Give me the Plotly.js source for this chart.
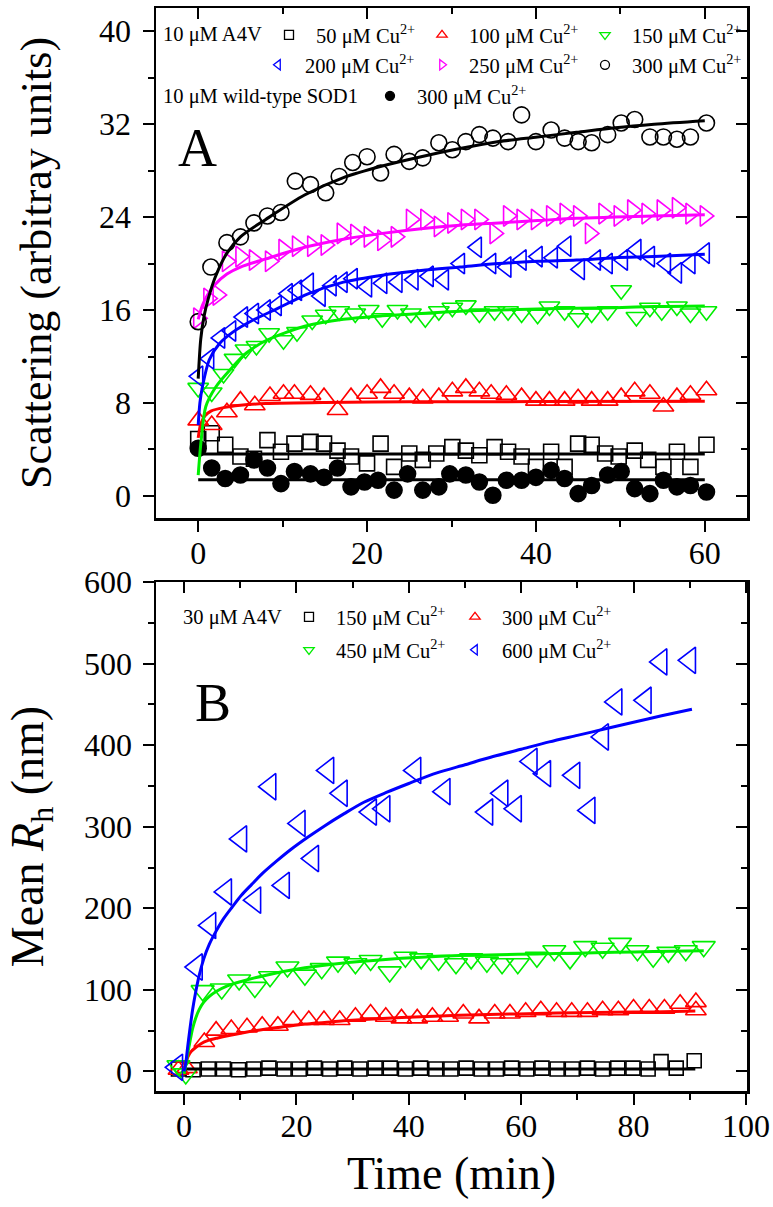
<!DOCTYPE html>
<html><head><meta charset="utf-8">
<script src="https://cdn.plot.ly/plotly-3.0.1.min.js"></script>
<style>html,body{margin:0;padding:0;background:#fff}#chart{width:773px;height:1207px}</style>
</head><body><div id="chart"></div>
<script>
// ---------- Panel A data (10 uM A4V / WT SOD1, scattering) ----------
const tA50 = [0,1.6,3.2,5.0,6.6,8.2,9.8,11.4,13.3,14.9,16.5,18.1,20.0,21.6,23.2,25.0,26.6,28.2,30.1,31.7,33.3,35.1,36.7,38.3,40.0,41.8,43.4,45.0,46.6,48.2,49.8,51.7,53.3,55.1,56.7,58.3,60.2];
const vA50 = [4.9,5.4,4.4,3.4,3.2,4.8,3.8,4.5,4.65,4.5,3.9,3.4,2.8,4.5,2.5,3.65,3.1,3.65,4.2,3.9,3.5,4.2,3.8,3.4,2.5,3.8,2.5,4.5,4.4,3.65,3.4,3.9,3.1,2.5,3.8,2.5,4.4];
const tA100 = [0,1.6,3.4,5.0,6.7,8.5,10.1,11.4,13.3,14.9,16.5,18.1,20.0,21.6,23.2,25.0,26.6,28.5,30.1,31.7,33.3,34.7,36.5,38.3,40.0,41.6,43.4,45.0,46.6,48.5,50.1,51.7,53.5,55.1,56.7,58.3,60.2];
const vA100 = [6.5,6.1,7.2,8.2,7.8,8.6,8.8,8.8,8.7,8.5,7.4,8.5,8.8,9.3,8.8,8.5,8.4,8.5,9.0,9.3,9.0,8.8,8.7,8.5,8.2,8.2,8.2,8.4,8.2,8.2,8.5,9.0,8.8,7.7,8.5,8.7,9.1];
const tA150 = [0,1.6,3.0,4.3,5.6,6.9,8.4,10.1,11.7,13.5,15.1,16.7,18.6,20.2,21.8,23.6,25.2,26.9,28.5,30.1,31.7,33.3,35.1,36.7,38.3,40.2,41.6,43.4,45.0,46.6,48.5,50.1,51.9,53.5,54.9,56.7,58.3,60.2];
const vA150 = [9.3,8.9,10.5,11.8,12.6,12.9,14.0,13.4,14.1,15.1,15.6,15.9,15.7,16.0,15.3,16.0,15.7,15.3,15.9,16.2,16.4,15.7,15.9,15.9,15.7,15.6,16.3,15.9,15.3,15.7,15.9,17.7,15.4,16.2,15.9,16.3,15.7,15.9];
const tA200 = [0,1.3,2.6,3.9,5.3,6.6,8.0,9.3,10.6,11.7,13.1,14.5,15.8,17.1,18.3,20.0,21.8,23.6,25.5,27.3,29.1,31.0,33.0,34.7,36.5,38.3,40.2,42.0,43.6,45.2,47.1,48.5,50.3,51.9,53.5,55.4,56.7,58.3,60.0];
const vA200 = [10.3,11.8,13.6,14.2,15.4,15.7,16.0,16.4,17.4,17.7,18.3,17.2,18.1,18.4,18.7,18.0,18.3,18.4,18.6,18.9,18.6,20.0,21.4,20.0,19.7,20.3,20.6,20.5,21.5,19.5,20.3,20.0,20.3,21.2,20.6,20.0,19.2,20.0,20.9];
const tA250 = [0,1.2,2.3,3.4,5.0,6.6,8.5,10.1,11.7,13.5,15.1,17.0,18.6,20.2,21.8,23.4,25.2,26.9,28.5,30.1,31.7,33.3,35.1,36.7,38.3,40.0,41.8,43.4,45.0,46.4,48.0,49.8,51.4,53.1,54.9,56.7,58.3,60.0];
const vA250 = [15.3,17.0,17.3,20.2,20.6,20.3,20.2,21.2,21.5,21.5,21.6,22.6,22.5,22.3,22.0,22.3,23.8,23.8,23.2,23.5,23.8,23.8,22.6,24.1,23.8,23.8,24.1,24.3,24.1,22.6,24.3,24.1,24.6,24.3,24.6,24.8,24.3,24.1];
const tA300 = [0,1.5,3.4,5.0,6.6,8.2,9.8,11.5,13.3,15.1,16.7,18.3,20.0,21.6,23.2,25.0,26.6,28.5,30.1,31.7,33.3,34.9,36.7,38.3,40.0,41.8,43.4,45.0,46.6,48.5,50.1,51.7,53.5,55.1,56.7,58.3,60.2];
const vA300 = [15.0,19.7,21.8,22.3,23.5,24.1,24.4,27.1,26.8,26.1,27.5,28.7,29.2,27.8,29.4,28.8,29.1,30.4,29.8,30.5,31.1,30.8,30.5,32.8,30.5,31.5,30.8,30.5,30.4,31.1,32.1,32.4,30.9,30.9,30.7,30.9,32.1];
const tAWT = [0,1.6,3.2,5.0,6.6,8.2,9.8,11.4,13.3,14.9,16.5,18.1,19.7,21.3,23.2,24.8,26.6,28.5,29.8,31.7,33.3,34.9,36.5,38.3,40.0,41.8,43.4,45.0,46.6,48.5,50.1,51.7,53.5,55.1,56.7,58.3,60.2];
const vAWT = [4.1,2.4,1.5,1.8,3.1,2.4,1.06,2.1,1.9,1.6,2.4,0.78,1.2,1.35,0.5,1.9,0.5,0.78,1.9,1.8,1.2,0.06,1.35,1.35,1.6,2.2,1.5,0.2,0.9,1.8,2.1,0.63,0.2,1.35,0.78,0.9,0.34];
// fitted curves, panel A
const fitTA50 = [0,60], fitVA50 = [3.6,3.6];
const fitTAWT = [0,60], fitVAWT = [1.4,1.4];
const fitTA100 = [0,0.3,0.8,1.5,3,5,8,15,25,40,60];
const fitVA100 = [5.0,6.2,6.9,7.3,7.6,7.8,7.95,8.05,8.1,8.12,8.15];
const fitTA150 = [0,0.35,0.9,2.1,3.7,5.7,8.1,12.6,17.2,21.8,26.4,31,35.6,40.2,44.8,49.4,54,60];
const fitVA150 = [1.8,4.8,7.7,9.4,10.8,12.3,13.4,14.6,15.2,15.5,15.7,15.9,16.0,16.1,16.15,16.2,16.3,16.35];
const fitTA200 = [0,0.2,0.5,1.3,2.5,4.1,6.4,9.3,13,17.2,21.8,26.4,31,35.6,40.2,44.8,49.4,54,60];
const fitVA200 = [6.1,8,9.4,11.7,13.1,14.1,15.1,16.1,17.4,18.4,19.0,19.4,19.7,20.0,20.2,20.3,20.5,20.6,20.8];
const fitTA250 = [0,0.5,1.1,2,3.4,5,8,12.6,17.2,21.8,26.4,31,35.6,40.2,44.8,49.4,54,60];
const fitVA250 = [15.2,16.4,17.3,18.2,19.1,19.7,20.4,21.4,22.1,22.6,23.0,23.3,23.5,23.7,23.9,24.0,24.1,24.2];
const fitTA300 = [0,0.3,0.7,1.2,2,3.4,5,8,12.6,17.2,21.8,26.4,31,35.6,40.2,44.8,49.4,54,60];
const fitVA300 = [10.1,13.5,15.5,17,18.8,20.9,22.3,23.8,25.9,27.4,28.4,29.2,29.9,30.5,30.9,31.3,31.7,32.0,32.3];

// ---------- Panel B data (30 uM A4V, mean Rh) ----------
const tB150 = [-1,1.6,4.3,7.0,9.7,12.4,15.1,17.8,20.5,23.2,25.9,28.6,31.3,34.0,36.7,39.4,42.1,44.8,47.5,50.2,52.9,55.6,58.3,61.0,63.7,66.4,69.1,71.8,74.5,77.2,79.9,82.6,84.9,87.6,90.8];
const vB150 = [3,2,3,3,2,3,4,3,3,4,3,4,3,4,4,3,4,3,3,4,3,3,4,3,4,3,3,4,3,4,4,3,12,4,13];
const tB300 = [-1,0.5,3.6,5.7,8.4,11.2,13.9,16.7,19.4,22.2,24.9,27.7,30.5,33.2,35.9,38.7,41.5,44.2,47.0,49.7,52.5,55.3,58.0,60.8,63.5,66.3,69.0,71.8,74.5,77.3,80.0,82.8,85.5,88.3,91.1,91.1];
const vB300 = [2,4,36,50,52,54,56,56,63,63,63,63,67,71,67,65,65,67,67,71,65,71,71,73,75,73,73,73,75,75,77,77,77,83,85,75];
const tB450 = [-1,0.3,3.3,6.7,9.8,12.6,15.3,18.4,21.5,24.5,27.4,30.5,33.2,36.6,39.4,42.2,45.3,48.4,51.1,53.9,56.6,59.4,62.8,65.9,68.7,71.4,74.5,77.6,80.7,83.5,86.2,89.3,92.5];
const vB450 = [7,-3,99,101,112,103,116,128,118,126,134,132,136,122,140,138,136,132,138,134,132,132,140,148,138,153,151,157,148,140,146,148,153];
const tB600 = [-1.3,2.2,4.6,7.4,10.1,12.6,15.3,17.7,20.5,22.9,25.6,28.0,33.2,35.6,41.1,46.3,53.9,56.6,59.0,61.8,64.2,69.4,72.1,74.5,76.9,82.1,84.9,90.0];
const vB600 = [5,128,179,220,285,210,349,228,304,261,369,341,318,322,369,343,318,341,322,380,365,363,320,410,453,455,502,504];
// fitted curves, panel B
const fitTB150 = [0,91], fitVB150 = [3,3];
const fitTB300 = [0,0.3,0.7,1.2,2,3,4.3,6,8,11,14.6,18,21.5,25,28.4,35.3,42.2,49,56,62.8,69.7,76.6,83.5,91];
const fitVB300 = [2,10,18,24,29,34,38,41,44,48,52,55,58,60,62,65,67,69,70,71,72,72.5,73,74];
const fitTB450 = [0,0.3,0.6,1.0,1.5,2.0,2.7,3.5,4.5,5.7,7.7,10,14.6,21.5,28.4,35.3,42.2,49,56,62.8,69.7,76.6,83.5,92.5];
const fitVB450 = [-3,8,20,35,52,64,76,85,92,98,105,110,118,127,133,137,140,142,143,144,145,146,147,148];
const fitTB600 = [0,0.3,0.6,1.0,1.5,2.0,2.7,3.5,4.5,5.7,7.0,8.5,10.2,12,14,16.5,19,22,25,28.5,32,36,40,45,50,55,60,65,70,75,80,85,90.4];
const fitVB600 = [0,10,28,50,75,95,118,138,156,172,187,201,216,229,243,258,272,287,301,316,330,342,353,366,376,386,395,404,412,420,428,436,444];

// ---------- labels ----------
const legendLabelsA = ['50 μM Cu<sup>2+</sup>','100 μM Cu<sup>2+</sup>','150 μM Cu<sup>2+</sup>','200 μM Cu<sup>2+</sup>','250 μM Cu<sup>2+</sup>','300 μM Cu<sup>2+</sup>','300 μM Cu<sup>2+</sup>'];
const legendLabelsB = ['150 μM Cu<sup>2+</sup>','300 μM Cu<sup>2+</sup>','450 μM Cu<sup>2+</sup>','600 μM Cu<sup>2+</sup>'];
const ticksAy = [0,8,16,24,32,40];
const ticksAx = [0,20,40,60];
const ticksBy = [0,100,200,300,400,500,600];
const ticksBx = [0,20,40,60,80,100];

// ---------- styling ----------
const FONT = "'Liberation Serif', 'Times New Roman', serif";
const C = {k:'#000000', r:'#ff0000', g:'#00ee00', b:'#0000ff', m:'#ff00ff'};
const W = 773, H = 1207, L = 156, R = 747, T = 8, B = 1091;
const px = x => (x - L) / (R - L);
const py = y => (B - y) / (B - T);

const traces = [];
function pts(t, v, sym, col, size, xa, ya) {
  traces.push({x:t, y:v, type:'scatter', mode:'markers', xaxis:xa, yaxis:ya, showlegend:false, hoverinfo:'x+y',
    marker:{symbol:sym, size:size, color:col, line:{width:1.6, color:col}}});
}
function fit(t, v, col, xa, ya) {
  traces.push({x:t, y:v, type:'scatter', mode:'lines', xaxis:xa, yaxis:ya, showlegend:false, hoverinfo:'skip',
    line:{color:col, width:3, shape:'spline', smoothing:0.8}});
}
// panel A
pts(tAWT, vAWT, 'circle', C.k, 16, 'x', 'y');
pts(tA50, vA50, 'square-open', C.k, 15, 'x', 'y');
pts(tA100, vA100, 'triangle-up-open', C.r, 18, 'x', 'y');
pts(tA150, vA150, 'triangle-down-open', C.g, 18, 'x', 'y');
pts(tA200, vA200, 'triangle-left-open', C.b, 18, 'x', 'y');
pts(tA250, vA250, 'triangle-right-open', C.m, 18, 'x', 'y');
pts(tA300, vA300, 'circle-open', C.k, 16, 'x', 'y');
fit(fitTA50, fitVA50, C.k, 'x', 'y');
fit(fitTAWT, fitVAWT, C.k, 'x', 'y');
fit(fitTA100, fitVA100, C.r, 'x', 'y');
fit(fitTA150, fitVA150, C.g, 'x', 'y');
fit(fitTA200, fitVA200, C.b, 'x', 'y');
fit(fitTA250, fitVA250, C.m, 'x', 'y');
fit(fitTA300, fitVA300, C.k, 'x', 'y');
// panel B
pts(tB150, vB150, 'square-open', C.k, 14, 'x2', 'y2');
pts(tB300, vB300, 'triangle-up-open', C.r, 18, 'x2', 'y2');
pts(tB450, vB450, 'triangle-down-open', C.g, 20, 'x2', 'y2');
pts(tB600, vB600, 'triangle-left-open', C.b, 23, 'x2', 'y2');
fit(fitTB150, fitVB150, C.k, 'x2', 'y2');
fit(fitTB300, fitVB300, C.r, 'x2', 'y2');
fit(fitTB450, fitVB450, C.g, 'x2', 'y2');
fit(fitTB600, fitVB600, C.b, 'x2', 'y2');
// empty traces on the mirror axes
traces.push({x:[], y:[], xaxis:'x3', yaxis:'y3', type:'scatter', showlegend:false});
traces.push({x:[], y:[], xaxis:'x4', yaxis:'y4', type:'scatter', showlegend:false});

// legend entries (each in its own legend box)
const legSyms = [
  ['square-open', C.k, 289, 35], ['triangle-up-open', C.r, 442, 35], ['triangle-down-open', C.g, 605, 35],
  ['triangle-left-open', C.b, 278, 65], ['triangle-right-open', C.m, 442, 65], ['circle-open', C.k, 605, 65],
  ['circle', C.k, 390, 96],
  ['square-open', C.k, 309, 617], ['triangle-up-open', C.r, 475, 617],
  ['triangle-down-open', C.g, 309, 650], ['triangle-left-open', C.b, 475, 650]
];
const legLabels = legendLabelsA.concat(legendLabelsB);
const layout = {
  width: W, height: H, margin:{l:L, r:W-R, t:T, b:H-B, pad:0},
  paper_bgcolor:'#fff', plot_bgcolor:'#fff', showlegend:true,
  font:{family:FONT, color:'#000', size:20},
  annotations:[]
};
legSyms.forEach((s, i) => {
  const lid = i === 0 ? 'legend' : 'legend' + (i + 1);
  traces.push({x:[null], y:[null], type:'scatter', mode:'markers', name:legLabels[i], legend:lid,
    xaxis: i < 7 ? 'x' : 'x2', yaxis: i < 7 ? 'y' : 'y2', hoverinfo:'skip',
    marker:{symbol:s[0], size:9, color:s[1], line:{width:1.3, color:s[1]}}});
  layout[lid] = {x:px(s[2] - 27), y:py(s[3]), xanchor:'left', yanchor:'middle', orientation:'h',
    bgcolor:'rgba(0,0,0,0)', borderwidth:0, itemwidth:44, itemclick:false, itemdoubleclick:false,
    font:{family:FONT, size:20.5, color:'#000'}};
});

const axBase = {showgrid:false, zeroline:false, showline:true, linecolor:'#000', linewidth:2.5,
  ticks:'outside', ticklen:11, tickwidth:2, tickcolor:'#000', tickmode:'array',
  tickfont:{family:FONT, size:32, color:'#000'}};
function minor(d, inside) { return {ticks: inside ? 'inside' : 'outside', ticklen:6, tickwidth:2, tickcolor:'#000', dtick:d, tick0:0, showgrid:false}; }
const domA = [py(518), 1], domB = [0, py(582)];
Object.assign(layout, {
  xaxis: Object.assign({}, axBase, {domain:[0,1], anchor:'y', range:[-5,65], tickvals:ticksAx, minor:minor(10), ticklabelstandoff:-6}),
  yaxis: Object.assign({}, axBase, {domain:domA, anchor:'x', range:[-1.9,42], tickvals:ticksAy, minor:minor(4), ticklabelstandoff:5,
    title:{text:'Scattering (arbitray units)', font:{family:FONT, size:44}, standoff:34}}),
  xaxis3: Object.assign({}, axBase, {overlaying:'x', side:'top', anchor:'y', range:[-5,65], tickvals:ticksAx,
    ticks:'inside', showticklabels:false, minor:minor(10, true)}),
  yaxis3: Object.assign({}, axBase, {overlaying:'y', side:'right', anchor:'x', range:[-1.9,42], tickvals:ticksAy,
    ticks:'inside', showticklabels:false, minor:minor(4, true)}),
  xaxis2: Object.assign({}, axBase, {domain:[0,1], anchor:'y2', range:[-5,100.2], tickvals:ticksBx, minor:minor(10), ticklabelstandoff:-6,
    title:{text:'Time (min)', font:{family:FONT, size:46}, standoff:14}}),
  yaxis2: Object.assign({}, axBase, {domain:domB, anchor:'x2', range:[-24,600], tickvals:ticksBy, minor:minor(50), ticklabelstandoff:4,
    title:{text:'Mean <i>R</i><sub>h</sub> (nm)', font:{family:FONT, size:46}, standoff:26}}),
  xaxis4: Object.assign({}, axBase, {overlaying:'x2', side:'top', anchor:'y2', range:[-5,100.2], tickvals:ticksBx,
    ticks:'inside', showticklabels:false, minor:minor(10, true)}),
  yaxis4: Object.assign({}, axBase, {overlaying:'y2', side:'right', anchor:'x2', range:[-24,600], tickvals:ticksBy,
    ticks:'inside', showticklabels:false, minor:minor(50, true)})
});
function note(text, x, y, size, xanchor) {
  layout.annotations.push({text:text, xref:'paper', yref:'paper', x:px(x), y:py(y), xanchor:xanchor||'left', yanchor:'middle',
    showarrow:false, font:{family:FONT, size:size, color:'#000'}});
}
note('10 μM A4V', 161, 35, 20.5);
note('10 μM wild-type SOD1', 161, 96, 20.5);
note('30 μM A4V', 181, 617, 20.5);
note('A', 197, 148, 54, 'center');
note('B', 213, 703, 54, 'center');

Plotly.newPlot('chart', traces, layout, {displayModeBar:false, staticPlot:true});
</script></body></html>
